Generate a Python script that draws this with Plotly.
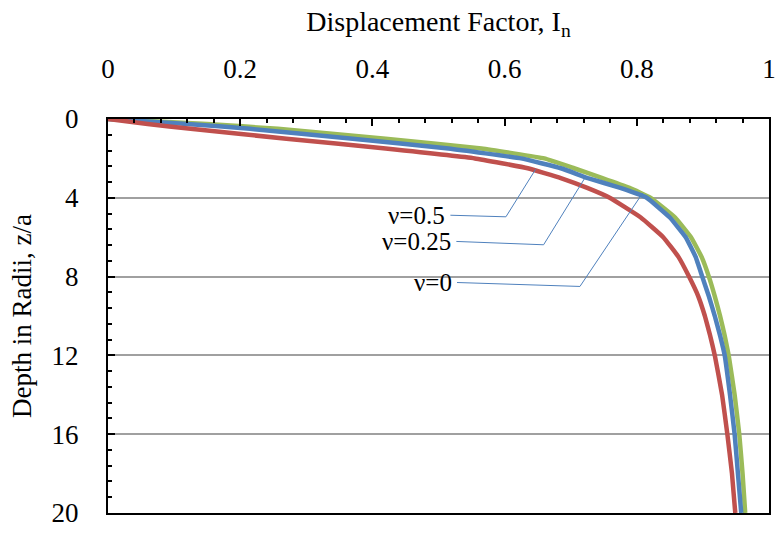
import plotly.graph_objects as go

# Depth below the loaded area, in radii (z/a)
depth = [0, 0.25, 0.5, 1, 1.5, 2, 2.5, 3, 3.5, 4, 5, 6, 7, 8, 9, 10, 11, 12, 14, 16, 18, 20]

# Displacement factor I_n for each Poisson's ratio
In_nu0 = [0, 0.06, 0.125, 0.27, 0.42, 0.555, 0.635, 0.685, 0.725, 0.759, 0.806, 0.84, 0.863,
          0.879, 0.893, 0.903, 0.911, 0.918, 0.929, 0.937, 0.944, 0.949]
In_nu025 = [0, 0.12, 0.215, 0.37, 0.515, 0.625, 0.685, 0.726, 0.775, 0.815, 0.85, 0.874, 0.889,
            0.899, 0.909, 0.918, 0.926, 0.933, 0.941, 0.948, 0.953, 0.958]
In_nu05 = [0, 0.15, 0.257, 0.42, 0.565, 0.66, 0.705, 0.748, 0.789, 0.821, 0.858, 0.882, 0.898,
           0.909, 0.918, 0.926, 0.933, 0.939, 0.948, 0.955, 0.960, 0.964]

x_ticks = [0, 0.2, 0.4, 0.6, 0.8, 1]
x_tick_text = ["0", "0.2", "0.4", "0.6", "0.8", "1"]
y_ticks = [0, 4, 8, 12, 16, 20]

# Callout labels: text, then leader-line vertices (I_n, z/a)
callout_text = ["ν=0.5", "ν=0.25", "ν=0"]
callout_x = [[0.518, 0.602, 0.647], [0.527, 0.659, 0.722], [0.528, 0.714, 0.809]]
callout_z = [[4.885, 4.965, 2.55], [6.215, 6.385, 2.965], [8.30, 8.50, 3.75]]

FONT = "Liberation Serif"

fig = go.Figure()
series = [("ν=0.5", In_nu05, "#9BBB59"), ("ν=0.25", In_nu025, "#4F81BD"), ("ν=0", In_nu0, "#C0504D")]
for name, vals, col in series:
    fig.add_trace(go.Scatter(x=vals, y=depth, mode="lines", name=name,
                             line=dict(color=col, width=4.5, shape="spline", smoothing=0.3)))

for txt, xs, zs in zip(callout_text, callout_x, callout_z):
    fig.add_trace(go.Scatter(x=xs, y=zs, mode="lines", line=dict(color="#4F81BD", width=1),
                             hoverinfo="skip"))
    fig.add_annotation(x=xs[0], y=zs[0], xref="x", yref="y", text=txt, showarrow=False,
                       xanchor="right", yanchor="middle", xshift=-3,
                       font=dict(family=FONT, size=25, color="black"))

fig.update_layout(
    width=783, height=535,
    margin=dict(l=108, r=7, t=119, b=16),
    paper_bgcolor="white", plot_bgcolor="white",
    showlegend=False,
    font=dict(family=FONT, size=27, color="black"),
)
fig.update_xaxes(
    side="top", range=[0, 1], tickvals=x_ticks, ticktext=x_tick_text,
    tickfont=dict(family=FONT, size=27, color="black"),
    ticks="inside", ticklen=7, tickwidth=2, tickcolor="black",
    minor=dict(ticks="inside", dtick=0.04, ticklen=4, tickwidth=1.5, tickcolor="black"),
    showgrid=False, zeroline=False,
    showline=True, linecolor="black", linewidth=2, mirror=True,
    ticklabelstandoff=28,
    title=dict(text="Displacement Factor, I<sub>n</sub>", font=dict(family=FONT, size=28), standoff=14),
)
fig.update_yaxes(
    range=[20, 0], tickvals=y_ticks,
    tickfont=dict(family=FONT, size=27, color="black"),
    ticks="inside", ticklen=7, tickwidth=2, tickcolor="black",
    minor=dict(ticks="inside", dtick=0.8, ticklen=4, tickwidth=1.5, tickcolor="black"),
    showgrid=True, gridcolor="#A0A0A0", gridwidth=1.5, zeroline=False,
    showline=True, linecolor="black", linewidth=2, mirror=True,
    ticklabelstandoff=22,
    title=dict(text="Depth in Radii, z/a", font=dict(family=FONT, size=27), standoff=12),
)

fig.write_html("out.html")
